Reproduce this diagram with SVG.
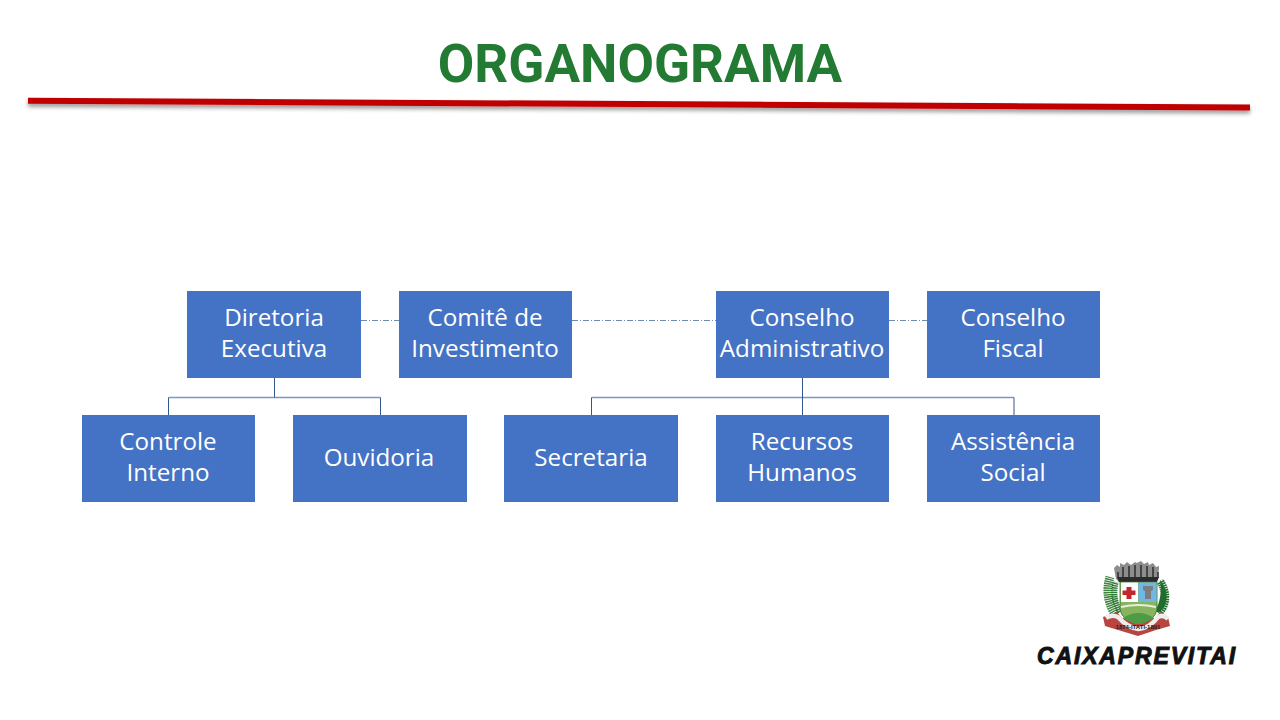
<svg xmlns="http://www.w3.org/2000/svg" width="1280" height="720" viewBox="0 0 1280 720">
<style>
.box{fill:#4472c4}
.t{font-family:"Open Sans","Noto Sans",sans-serif;font-size:24.200px;fill:#fff;text-anchor:middle}
.solid{fill:none;stroke:#34578c;stroke-width:1}
.bar{fill:none;stroke:#7f97bf;stroke-width:1.400}
.dash{fill:none;stroke:#6f8bb0;stroke-width:1;stroke-dasharray:6 2 1 2}
.title{font-family:Roboto,"Liberation Sans",sans-serif;font-weight:700;font-size:53px;fill:#237a33;text-anchor:middle}
.brand{font-family:"Liberation Sans",Arial,sans-serif;font-weight:700;font-style:italic;font-size:23px;fill:#111;stroke:#111;stroke-width:1;letter-spacing:1.850px}
.frond{fill:none;stroke-dasharray:1.500 .7}
</style>
<defs>
<filter id="sh" x="-2%" y="-300%" width="104%" height="700%"><feDropShadow dx="0" dy="3" stdDeviation="2" flood-color="#000" flood-opacity=".4"/></filter>
</defs>
<rect width="1280" height="720" fill="#fff"/>
<text class="title" x="640" y="82">ORGANOGRAMA</text>
<line x1="28" y1="100.700" x2="1250" y2="107.500" stroke="#c00000" stroke-width="6" filter="url(#sh)"/>
<g id="connectors">
<path class="dash" d="M361 320.500H399M572 320.500H716M889 320.500H927"/>
<path class="bar" d="M168.500 397.500H380.500M591.500 397.500H1014"/>
<path class="solid" d="M274.500 378V397.500M168.500 415V397.500M380.500 415V397.500"/>
<path class="solid" d="M802.500 378V415M591.500 415V397.500M1014 415V397.500"/>
</g>
<g id="n-diretoria"><rect class="box" x="187" y="291" width="174" height="87"/><text class="t" x="274" y="326">Diretoria</text><text class="t" x="274" y="357">Executiva</text></g>
<g id="n-comite"><rect class="box" x="399" y="291" width="173" height="87"/><text class="t" x="485" y="326">Comitê de</text><text class="t" x="485" y="357">Investimento</text></g>
<g id="n-conselho-adm"><rect class="box" x="716" y="291" width="173" height="87"/><text class="t" x="802" y="326">Conselho</text><text class="t" x="802" y="357">Administrativo</text></g>
<g id="n-conselho-fiscal"><rect class="box" x="927" y="291" width="173" height="87"/><text class="t" x="1013" y="326">Conselho</text><text class="t" x="1013" y="357">Fiscal</text></g>
<g id="n-controle"><rect class="box" x="82" y="415" width="173" height="87"/><text class="t" x="168" y="450">Controle</text><text class="t" x="168" y="481">Interno</text></g>
<g id="n-ouvidoria"><rect class="box" x="293" y="415" width="174" height="87"/><text class="t" x="379" y="466">Ouvidoria</text></g>
<g id="n-secretaria"><rect class="box" x="504" y="415" width="174" height="87"/><text class="t" x="591" y="466">Secretaria</text></g>
<g id="n-rh"><rect class="box" x="716" y="415" width="173" height="87"/><text class="t" x="802" y="450">Recursos</text><text class="t" x="802" y="481">Humanos</text></g>
<g id="n-assistencia"><rect class="box" x="927" y="415" width="173" height="87"/><text class="t" x="1013" y="450">Assistência</text><text class="t" x="1013" y="481">Social</text></g>
<g id="logo">
<path class="frond" d="M1115 614C1108 603 1106 590 1110 577" stroke="#3f8440" stroke-width="9"/>
<path class="frond" d="M1120 612C1114 603 1113 590 1116 582" stroke="#2f7a36" stroke-width="6"/>
<path d="M1159 613C1168 605 1170 592 1160 580C1162 592 1160 603 1155 611Z" fill="#1f6e2e"/>
<path class="frond" d="M1160 612C1167 603 1167 592 1160 581" stroke="#1f6e2e" stroke-width="8"/>
<path d="M1114 568l3-3 3 2 0-4 4 2 3-3 4 3 4-3 2 1 4-2 3 3 4-2 1 3 4-2 3 4 3-1 0 3-2 10-3 3H1119l-3-3Z" fill="#8d8d8d"/>
<path d="M1118 572v6M1123 567v11M1129 566v12M1135 565v13M1141 565v13M1147 566v12M1153 567v11M1158 572v6" stroke="#333" stroke-width="1.600"/>
<path d="M1117 577H1159L1157 582H1119Z" fill="#2b2b2b"/>
<path d="M1120 582H1157V609Q1156 620 1138.500 625Q1121 620 1120 609Z" fill="#86b45f" stroke="#3e6b3a" stroke-width=".8"/>
<rect x="1121" y="582.500" width="17" height="19.500" fill="#fff"/>
<path d="M1126.500 587H1131.500V590.500H1135.500V595H1131.500V599H1126.500V595H1122.500V590.500H1126.500Z" fill="#c1272d"/>
<rect x="1138.500" y="582.500" width="18" height="19.500" fill="#6fb7e6"/>
<path d="M1143 586H1153V590L1151 591V599H1145V591L1143 590Z" fill="#7d7d7d"/>
<path d="M1121 607Q1138.500 603 1156 607" fill="none" stroke="#e8efd8" stroke-width="2"/>
<path d="M1123 618Q1138.500 608 1154 618V622L1138 626L1123 622Z" fill="#4f9a45"/>
<path d="M1103 617L1117 612L1122 618L1135 624H1142L1155 618L1160 612L1168 617L1170 626L1156 630L1138 636L1118 630L1105 626Z" fill="#b8453f"/>
<path d="M1106 618Q1112 614 1118 617Q1128 628 1138.500 629Q1150 628 1158 617Q1163 614 1168 619" fill="none" stroke="#eee" stroke-width="4.500"/>
<text x="1138" y="629" font-family="Liberation Sans,sans-serif" font-size="6" font-weight="700" fill="#222" text-anchor="middle">1874-ITATI-1891</text>
<text class="brand" x="1037" y="663.500">CAIXAPREVITAI</text>
</g>
</svg>
